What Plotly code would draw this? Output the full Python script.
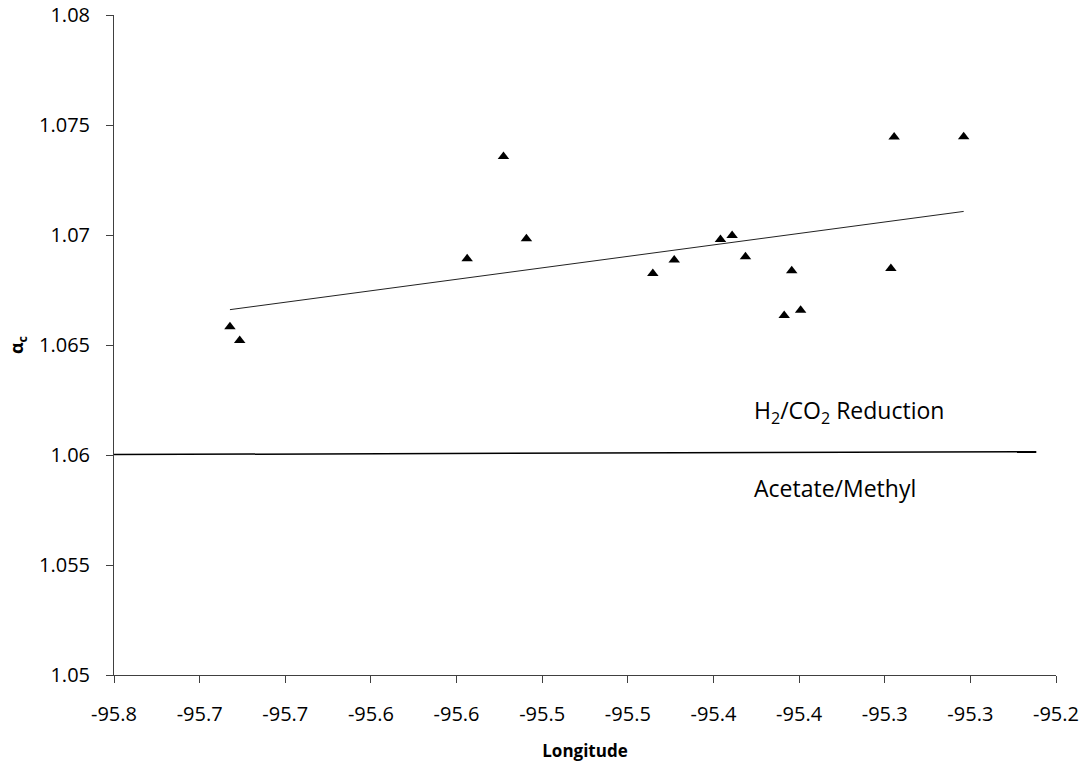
import numpy as np
import plotly.graph_objects as go

# Data
longitude = [-95.7323, -95.7266, -95.5938, -95.5726, -95.5592, -95.4854, -95.4729,
             -95.4459, -95.4391, -95.4313, -95.4087, -95.3991, -95.4043, -95.3464,
             -95.3445, -95.3039]
alpha_c = [1.06583, 1.06520, 1.06892, 1.07357, 1.06983, 1.06825, 1.06886,
           1.069795, 1.069976, 1.069009, 1.066338, 1.066579, 1.068373, 1.068473,
           1.07446, 1.07447]

# Boundary line between pathways
boundary_x = [-95.8, -95.2615]
boundary_y = [1.06002, 1.06015]

x_tickvals = [-95.8, -95.75, -95.7, -95.65, -95.6, -95.55, -95.5, -95.45, -95.4,
              -95.35, -95.3, -95.25]
x_ticktext = ["-95.8", "-95.7", "-95.7", "-95.6", "-95.6", "-95.5", "-95.5",
              "-95.4", "-95.4", "-95.3", "-95.3", "-95.2"]
y_tickvals = [1.05, 1.055, 1.06, 1.065, 1.07, 1.075, 1.08]
y_ticktext = ["1.05", "1.055", "1.06", "1.065", "1.07", "1.075", "1.08"]

label_upper = "H<sub>2</sub>/CO<sub>2</sub> Reduction"
label_lower = "Acetate/Methyl"

# Linear trendline (least squares) over the data range
coef = np.polyfit(longitude, alpha_c, 1)
tx = np.array([min(longitude), max(longitude)])
ty = np.polyval(coef, tx)

font_family = "Open Sans"
axis_color = "#404040"

fig = go.Figure()
fig.add_trace(go.Scatter(x=boundary_x, y=boundary_y, mode="lines",
                         line=dict(color="black", width=1.5), hoverinfo="skip"))
fig.add_trace(go.Scatter(x=tx, y=ty, mode="lines",
                         line=dict(color="#222222", width=1), hoverinfo="skip"))
fig.add_trace(go.Scatter(x=longitude, y=alpha_c, mode="markers",
                         marker=dict(symbol="triangle-up", size=10, color="black")))

fig.add_annotation(x=-95.4277, y=1.0620, xref="x", yref="y", text=label_upper,
                   showarrow=False, xanchor="left", yanchor="middle",
                   font=dict(family=font_family, size=23, color="black"))
fig.add_annotation(x=-95.4277, y=1.05852, xref="x", yref="y", text=label_lower,
                   showarrow=False, xanchor="left", yanchor="middle",
                   font=dict(family=font_family, size=23, color="black"))

fig.update_layout(
    width=1084, height=765,
    margin=dict(l=114, r=28, t=15, b=90),
    paper_bgcolor="white", plot_bgcolor="white",
    showlegend=False,
    font=dict(family=font_family, size=20, color="black"),
    xaxis=dict(range=[-95.8, -95.25], tickmode="array", tickvals=x_tickvals,
               ticktext=x_ticktext, showgrid=False, zeroline=False,
               showline=True, linecolor=axis_color, linewidth=1,
               ticks="outside", ticklen=7, tickcolor=axis_color,
               ticklabelstandoff=14, automargin=False,
               title=dict(text="<b>Longitude</b>", font=dict(size=17), standoff=19)),
    yaxis=dict(range=[1.05, 1.08], tickmode="array", tickvals=y_tickvals,
               ticktext=y_ticktext, showgrid=False, zeroline=False,
               showline=True, linecolor=axis_color, linewidth=1,
               ticks="outside", ticklen=7, tickcolor=axis_color,
               ticklabelstandoff=12, automargin=False,
               title=dict(text="<b>α<sub>c</sub></b>", font=dict(size=18), standoff=10)),
)

fig.write_html("out.html")
